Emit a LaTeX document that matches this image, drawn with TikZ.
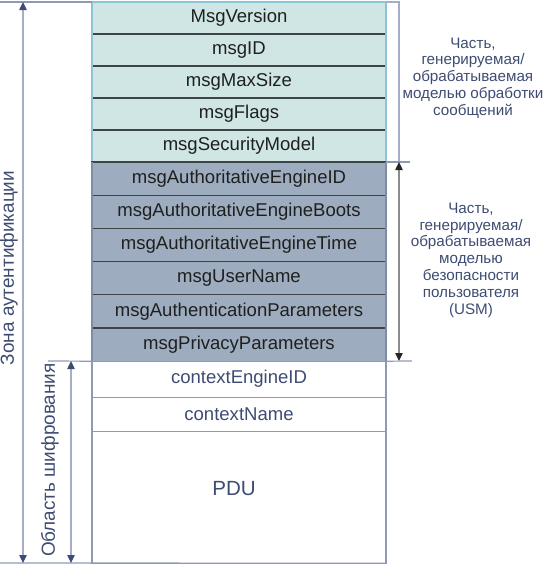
\documentclass[tikz,border=0pt]{standalone}
\usepackage{fontspec}
\setmainfont{Liberation Sans}
\usetikzlibrary{positioning,arrows.meta}

\definecolor{topfill}{HTML}{CFE6E5}
\definecolor{topedge}{HTML}{8CC3D6}
\definecolor{darkfill}{HTML}{9DADBF}
\definecolor{darkedge}{HTML}{7E8DA3}
\definecolor{sepline}{HTML}{3C4448}
\definecolor{paleedge}{HTML}{8E99B6}
\definecolor{inktext}{HTML}{3E4C73}
\definecolor{guideline}{HTML}{A6ADC6}

\tikzset{
  row/.style={rectangle, outer sep=0pt, inner sep=0pt, minimum width=220.5pt,
    font=\fontsize{13.9}{16}\selectfont},
  toprow/.style={row, fill=topfill, draw=sepline, line width=0.8pt, minimum height=24pt, text=black!88},
  usmrow/.style={row, fill=darkfill, draw=sepline, line width=0.8pt, minimum height=24.9pt, text=black!88},
  plainrow/.style={row, draw=paleedge, line width=0.9pt, text=inktext},
  sidetext/.style={align=center, text=inktext, font=\fontsize{11.4}{12.6}\selectfont},
  zonetext/.style={text=inktext, rotate=90, font=\fontsize{14.2}{16}\selectfont},
  guide/.style={draw=paleedge, line width=0.9pt},
  zonearrow/.style={draw=guideline, line width=1pt,
    {Triangle[length=6pt,width=5.5pt,color=inktext]}-{Triangle[length=6pt,width=5.5pt,color=inktext]}},
  usmarrow/.style={draw=black!45, line width=1pt,
    {Triangle[length=6pt,width=5.5pt,color=black!85]}-{Triangle[length=6pt,width=5.5pt,color=black!85]}}
}

\begin{document}
\begin{tikzpicture}[x=0.75pt,y=-0.75pt]
    \useasboundingbox (0,0) rectangle (550,565);

    \node[toprow, anchor=north west] (ver) at (92,2) {MsgVersion};
    \node[toprow, below=0pt of ver] (msgid) {msgID};
    \node[toprow, below=0pt of msgid] (maxsize) {msgMaxSize};
    \node[toprow, below=0pt of maxsize] (flags) {msgFlags};
    \node[toprow, below=0pt of flags] (secmodel) {msgSecurityModel};
    \draw[topedge, line width=1pt] (ver.north west) rectangle (secmodel.south east);

    \node[usmrow, below=0pt of secmodel] (engid) {msgAuthoritativeEngineID};
    \node[usmrow, below=0pt of engid] (boots) {msgAuthoritativeEngineBoots};
    \node[usmrow, below=0pt of boots] (time) {msgAuthoritativeEngineTime};
    \node[usmrow, below=0pt of time] (user) {msgUserName};
    \node[usmrow, below=0pt of user] (authp) {msgAuthenticationParameters};
    \node[usmrow, below=0pt of authp] (privp) {msgPrivacyParameters};
    \draw[darkedge, line width=1pt] (engid.north west) -- (privp.south west);
    \draw[darkedge, line width=1pt] (engid.north east) -- (privp.south east);

    \node[plainrow, minimum height=27pt, below=0pt of privp] (ctxid) {contextEngineID};
    \node[plainrow, minimum height=25.5pt, below=0pt of ctxid] (ctxname) {contextName};
    \node[plainrow, minimum height=99pt, below=0pt of ctxname] (pdu) {};
    \node[text=inktext, font=\fontsize{15.4}{18}\selectfont] (pdutext) at ([shift={(-5,-9)}]pdu.center) {PDU};

    % левая сторона
    \coordinate (lefttop) at (0,2);
    \coordinate (leftbot) at (0,563);
    \coordinate (encleft) at (48,361);
    \coordinate (authtop) at (23,2);
    \coordinate (authbot) at (23,563);
    \coordinate (enctop) at (71,361);
    \coordinate (encbot) at (71,563);
    \draw[guide] (lefttop) -- (ver.north west);
    \draw[guide] (leftbot) -- (pdu.south east);
    \draw[guide] (encleft) -- (ctxid.north west);
    \draw[zonearrow] (authtop) -- (authbot);
    \draw[zonearrow] (enctop) -- (encbot);
    \node[zonetext] (authzone) at (9,268) {Зона аутентификации};
    \node[zonetext] (enczone) at (50,460) {Область шифрования};

    % правая сторона
    \coordinate (mpbend) at (399,2);
    \coordinate (mpend) at (399,162);
    \coordinate (usmtick) at (410,162);
    \coordinate (usmtop) at (399,162);
    \coordinate (usmbot) at (399,361);
    \coordinate (endtick) at (412,361);
    \draw[draw=guideline, line width=1pt] (ver.north east) -- (mpbend) -- (mpend);
    \draw[guide] (secmodel.south east) -- (usmtick);
    \draw[guide] (privp.south east) -- (endtick);
    \draw[usmarrow] (usmtop) -- (usmbot);
    \node[sidetext] (mplabel) at (473,78) {Часть,\\генерируемая/\\обрабатываемая\\моделью обработки\\сообщений};
    \node[sidetext] (usmlabel) at (471,260) {Часть,\\генерируемая/\\обрабатываемая\\моделью\\безопасности\\пользователя\\(USM)};
\end{tikzpicture}
\end{document}
